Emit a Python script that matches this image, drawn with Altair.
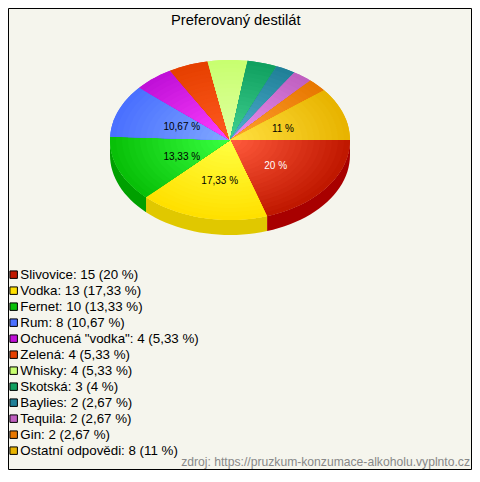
import math
import altair as alt
import pandas as pd

# ---- data ----
names = ["Slivovice", "Vodka", "Fernet", "Rum", 'Ochucená "vodka"', "Zelená", "Whisky",
         "Skotská", "Baylies", "Tequila", "Gin", "Ostatní odpovědi"]
counts = [15, 13, 10, 8, 4, 4, 4, 3, 2, 2, 2, 8]
percents = ["20", "17,33", "13,33", "10,67", "5,33", "5,33", "5,33", "4", "2,67", "2,67", "2,67", "11"]

# ---- palette ----
rim = ["#c01800", "#ffe000", "#08c008", "#4a70ff", "#c010d8", "#e64000", "#c8ff70",
       "#10a060", "#208098", "#c060c0", "#e87800", "#e8b400"]
core = ["#ff5a3c", "#ffff40", "#38ff40", "#80a8ff", "#ff40ff", "#ff5a20", "#e0ffa0",
        "#40d090", "#50b0d0", "#e890f0", "#ffa030", "#ffe040"]
wall = ["#a80000", "#e0c800", "#00a000"]

# ---- layout ----
W, H = 463, 461
CX, CY, RX, RY = 222, 132, 120, 80
DEPTH = 15 / RY
RINGS = 20
FONT = "Liberation Sans"
BG = "#f5f5ed"

legend_labels = [f"{n}: {c} ({p} %)" for n, c, p in zip(names, counts, percents)]
total = sum(counts)


def mix(a, b, t):
    ca = [int(a[i:i + 2], 16) for i in (1, 3, 5)]
    cb = [int(b[i:i + 2], 16) for i in (1, 3, 5)]
    return "#%02x%02x%02x" % tuple(round(x + (y - x) * t) for x, y in zip(ca, cb))


def arc(a0, a1):
    n = max(2, int(math.ceil((a1 - a0) / 3)) + 1)
    return [a0 + (a1 - a0) * i / (n - 1) for i in range(n)]


top_rows, wall_rows, ring_rows, label_rows = [], [], [], []
cum = 0
for idx, (lab, c) in enumerate(zip(legend_labels, counts)):
    a0, a1 = 360 * cum / total, 360 * (cum + c) / total
    cum += c
    pts = arc(a0, a1)
    # upper surface, flat colour (drives the legend)
    seq = [(0.0, 0.0)] + [(math.cos(math.radians(a)), math.sin(math.radians(a))) for a in pts]
    for i, (x, y) in enumerate(seq):
        top_rows.append({"label": lab, "i": i, "x": x, "y": y})
    # radial shading, outermost first
    for k in range(RINGS):
        s = 1 - k / RINGS
        col = mix(rim[idx], core[idx], k / (RINGS - 1))
        for i, (x, y) in enumerate(seq):
            ring_rows.append({"g": idx * 100 + k, "i": i, "x": x * s, "y": y * s, "c": col})
    # side wall of the front half
    if a0 < 180:
        wa = arc(a0, min(a1, 180))
        edge = [(math.cos(math.radians(a)), math.sin(math.radians(a))) for a in wa]
        poly = edge + [(x, y + DEPTH) for x, y in reversed(edge)]
        for i, (x, y) in enumerate(poly):
            wall_rows.append({"g": idx, "i": i, "x": x, "y": y, "c": wall[idx]})
    # percentage labels on the large slices
    if c / total >= 0.1:
        mid = math.radians((a0 + a1) / 2)
        label_rows.append({
            "x": 0.45 * math.cos(mid), "y": 0.5 * math.sin(mid),
            "t": f"{percents[idx]} %", "c": "#ffffff" if idx == 0 else "#000000",
        })

xs = alt.Scale(domain=[-1, 1], range=[CX - RX, CX + RX], nice=False, zero=False)
ys = alt.Scale(domain=[-1, 1], range=[CY - RY, CY + RY], nice=False, zero=False)
X = alt.X("x:Q", scale=xs, axis=None)
Y = alt.Y("y:Q", scale=ys, axis=None)

walls = alt.Chart(pd.DataFrame(wall_rows)).mark_line(strokeWidth=0).encode(
    x=X, y=Y, detail="g:N", order="i:Q", fill=alt.Fill("c:N", scale=None))

top = alt.Chart(pd.DataFrame(top_rows)).mark_line(strokeWidth=0).encode(
    x=X, y=Y, order="i:Q",
    fill=alt.Fill("label:N", sort=legend_labels,
                  scale=alt.Scale(domain=legend_labels, range=rim),
                  legend=alt.Legend(
                      title=None, orient="none", legendX=-1, legendY=260,
                      symbolType="square", symbolSize=56, symbolStrokeColor="#000000",
                      symbolStrokeWidth=1, symbolOpacity=1, labelFont=FONT, labelFontSize=13.33,
                      labelColor="#000000", labelLimit=300, rowPadding=2, labelOffset=0,
                      padding=0, offset=0)))

rings = alt.Chart(pd.DataFrame(ring_rows)).mark_line(strokeWidth=0).encode(
    x=X, y=Y, detail="g:N", order="i:Q", fill=alt.Fill("c:N", scale=None, legend=None))

labels = alt.Chart(pd.DataFrame(label_rows)).mark_text(
    font=FONT, fontSize=10, align="center", baseline="middle", dx=2, dy=2).encode(
    x=X, y=Y, text="t:N", color=alt.Color("c:N", scale=None))

source = alt.Chart(pd.DataFrame({"t": ["zdroj: https://pruzkum-konzumace-alkoholu.vyplnto.cz"]})).mark_text(
    font=FONT, fontSize=12.15, align="right", baseline="middle", color="#888888").encode(
    x=alt.value(462), y=alt.value(454), text="t:N")

chart = alt.layer(walls, top, rings, labels, source).resolve_scale(fill="independent").properties(
    width=W, height=H, padding={"left": 0, "top": 0, "right": 1, "bottom": 1},
    autosize=alt.AutoSizeParams(type="none"),
    background=BG,
    title=alt.Title("Preferovaný destilát", font=FONT, fontSize=14.67, fontWeight="normal",
                    color="#000000", anchor="start", dx=164, offset=-20),
).configure_view(stroke="#000000", strokeWidth=1)

chart.save("out.html", embed_options={"renderer": "svg", "actions": False})
